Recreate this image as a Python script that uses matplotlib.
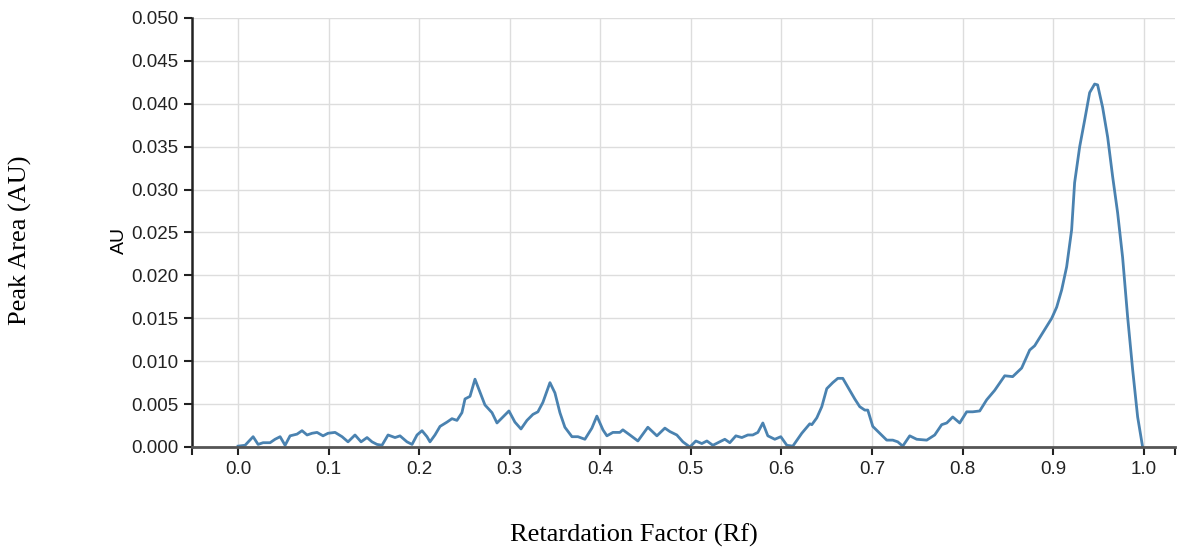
import matplotlib
matplotlib.use("Agg")
import matplotlib.pyplot as plt

# densitogram trace (Rf, AU)
rf = [0.0, 0.0077, 0.0166, 0.0221, 0.0276, 0.0353, 0.0408, 0.0464, 0.0519, 0.0574,
      0.0651, 0.0706, 0.0762, 0.0817, 0.0872, 0.0938, 0.0993, 0.1071, 0.1148, 0.1214,
      0.1291, 0.1358, 0.1424, 0.1479, 0.1534, 0.1589, 0.1656, 0.1733, 0.1788, 0.1865,
      0.1921, 0.1976, 0.2031, 0.2086, 0.2119, 0.2174, 0.2230, 0.2307, 0.2362, 0.2417,
      0.2472, 0.2506, 0.2561, 0.2616, 0.2671, 0.2726, 0.2804, 0.2859, 0.2925, 0.2991,
      0.3057, 0.3124, 0.3190, 0.3256, 0.3311, 0.3366, 0.3444, 0.3499, 0.3554, 0.3609,
      0.3687, 0.3753, 0.3830, 0.3907, 0.3962, 0.4029, 0.4073, 0.4139, 0.4216, 0.4249,
      0.4327, 0.4415, 0.4525, 0.4625, 0.4713, 0.4768, 0.4845, 0.4912, 0.4989, 0.5055,
      0.5121, 0.5177, 0.5243, 0.5375, 0.5430, 0.5497, 0.5563, 0.5629, 0.5684, 0.5740,
      0.5795, 0.5850, 0.5927, 0.5993, 0.6060, 0.6126, 0.6225, 0.6313, 0.6336, 0.6391,
      0.6446, 0.6501, 0.6567, 0.6623, 0.6678, 0.6733, 0.6810, 0.6865, 0.6921, 0.6954,
      0.7009, 0.7086, 0.7163, 0.7230, 0.7285, 0.7340, 0.7417, 0.7494, 0.7605, 0.7693,
      0.7770, 0.7826, 0.7892, 0.7969, 0.8046, 0.8113, 0.8190, 0.8267, 0.8355, 0.8466,
      0.8554, 0.8653, 0.8742, 0.8797, 0.8885, 0.8985, 0.9040, 0.9095, 0.9150, 0.9205,
      0.9238, 0.9294, 0.9349, 0.9404, 0.9459, 0.9492, 0.9547, 0.9603, 0.9658, 0.9713,
      0.9768, 0.9823, 0.9879, 0.9934, 0.9989]
au = [0.0001, 0.0002, 0.0012, 0.0003, 0.0005, 0.0005, 0.0009, 0.0012, 0.0002, 0.0013,
      0.0015, 0.0019, 0.0014, 0.0016, 0.0017, 0.0013, 0.0016, 0.0017, 0.0012, 0.0006,
      0.0014, 0.0006, 0.0011, 0.0006, 0.0003, 0.0002, 0.0014, 0.0011, 0.0013, 0.0006,
      0.0003, 0.0014, 0.0019, 0.0012, 0.0006, 0.0014, 0.0024, 0.0029, 0.0033, 0.0031,
      0.0040, 0.0056, 0.0059, 0.0079, 0.0064, 0.0049, 0.0040, 0.0028, 0.0035, 0.0042,
      0.0029, 0.0021, 0.0031, 0.0038, 0.0041, 0.0052, 0.0075, 0.0063, 0.0040, 0.0023,
      0.0012, 0.0012, 0.0009, 0.0022, 0.0036, 0.0020, 0.0013, 0.0017, 0.0017, 0.0020,
      0.0014, 0.0007, 0.0023, 0.0013, 0.0022, 0.0018, 0.0014, 0.0006, 0.0000, 0.0007,
      0.0004, 0.0007, 0.0002, 0.0009, 0.0005, 0.0013, 0.0011, 0.0014, 0.0014, 0.0017,
      0.0028, 0.0013, 0.0009, 0.0012, 0.0002, 0.0001, 0.0016, 0.0027, 0.0026, 0.0034,
      0.0047, 0.0068, 0.0075, 0.0080, 0.0080, 0.0070, 0.0056, 0.0047, 0.0043, 0.0043,
      0.0024, 0.0016, 0.0008, 0.0008, 0.0006, 0.0001, 0.0013, 0.0009, 0.0008, 0.0014,
      0.0026, 0.0028, 0.0035, 0.0028, 0.0041, 0.0041, 0.0042, 0.0055, 0.0066, 0.0083,
      0.0082, 0.0092, 0.0113, 0.0118, 0.0133, 0.0150, 0.0163, 0.0183, 0.0210, 0.0253,
      0.0308, 0.0350, 0.0381, 0.0413, 0.0423, 0.0422, 0.0396, 0.0361, 0.0315, 0.0273,
      0.0221, 0.0152, 0.0090, 0.0035, 0.0]

xticks = [0.0, 0.1, 0.2, 0.3, 0.4, 0.5, 0.6, 0.7, 0.8, 0.9, 1.0]
yticks = [0.0, 0.005, 0.01, 0.015, 0.02, 0.025, 0.03, 0.035, 0.04, 0.045, 0.05]

plt.rcParams['font.family'] = ['Liberation Sans', 'DejaVu Sans']

fig = plt.figure(figsize=(11.92, 5.53), dpi=100)
ax = fig.add_axes([0.161, 0.1917, 0.825, 0.7758])

ax.plot(rf, au, color='#4a82b0', linewidth=2.0, solid_joinstyle='round')

ax.set_xlim(-0.051, 1.035)
ax.set_ylim(0, 0.05)
ax.set_xticks(xticks)
ax.set_xticklabels(['%.1f' % v for v in xticks])
ax.set_yticks(yticks)
ax.set_yticklabels(['%.3f' % v for v in yticks])
# outer ticks at the ends of the x axis line, like a d3 axis
ax.set_xticks([-0.051, 1.035], minor=True)

ax.grid(True, color='#dddddd', linewidth=1)
ax.set_axisbelow(True)
ax.tick_params(axis='both', which='both', labelsize=13.5, colors='#222222',
               direction='out', length=6, width=1.5, pad=4)
ax.tick_params(axis='x', which='minor', length=6)

for s in ['top', 'right']:
    ax.spines[s].set_visible(False)
ax.spines['left'].set_color('#222222')
ax.spines['left'].set_linewidth(1.8)
ax.spines['bottom'].set_color('#555555')
ax.spines['bottom'].set_linewidth(2)

fig.text(0.1, 0.566, 'AU', rotation=90, ha='center', va='center', fontsize=14)
fig.text(0.0168, 0.566, 'Peak Area (AU)', rotation=90, ha='center', va='center',
         fontsize=19, family=['Liberation Serif', 'DejaVu Serif'])
fig.text(0.532, 0.032, 'Retardation Factor (Rf)', ha='center', va='center',
         fontsize=19, family=['Liberation Serif', 'DejaVu Serif'])

fig.savefig('out.png', dpi=100)
